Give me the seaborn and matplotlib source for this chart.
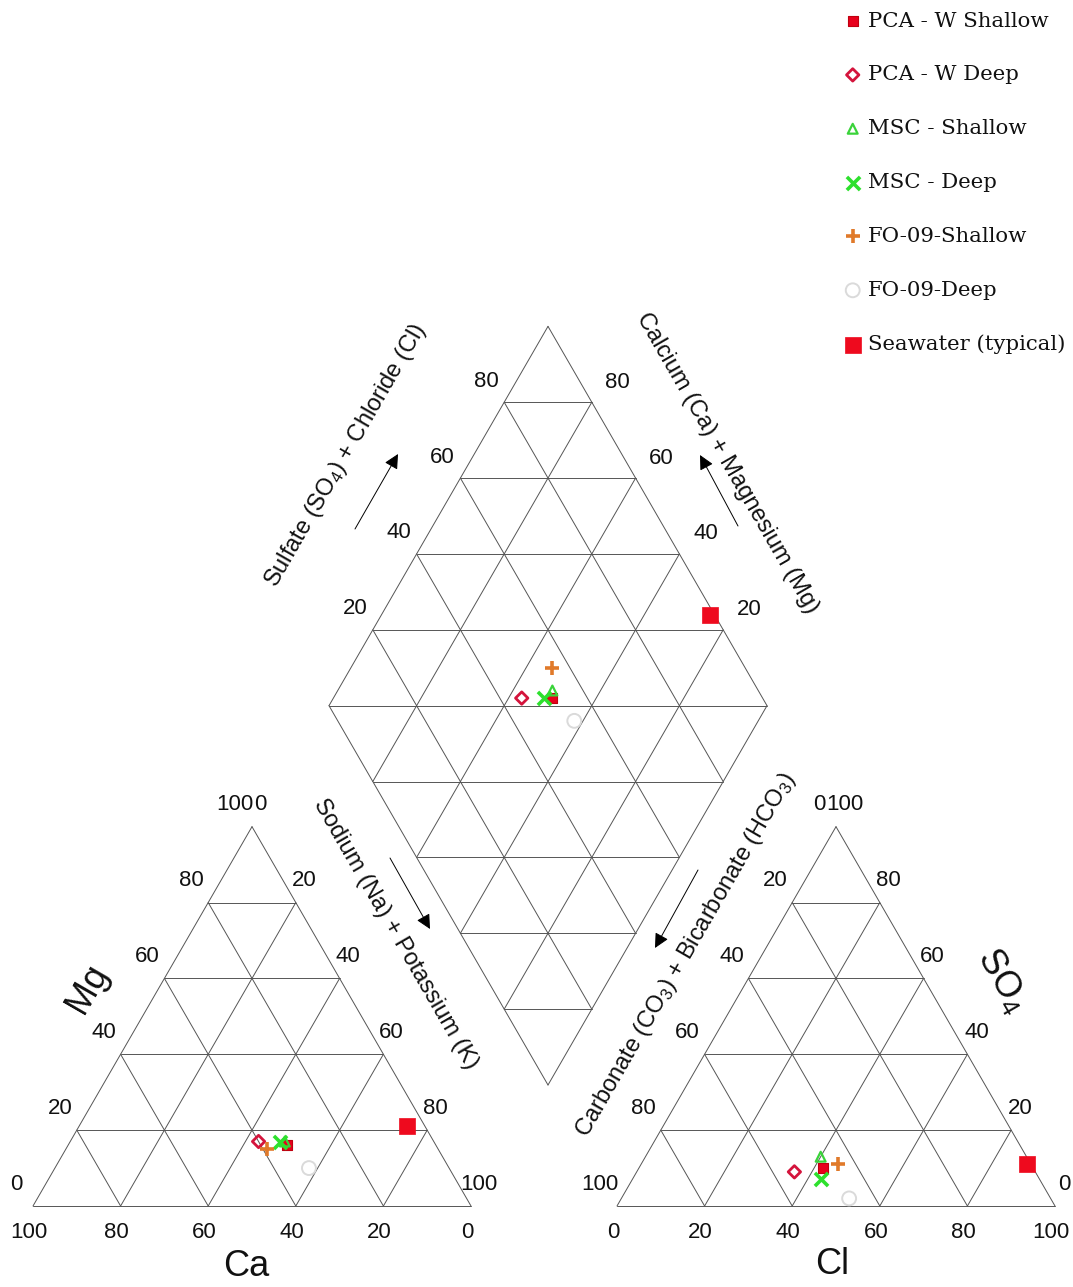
import numpy as np
import pandas as pd
import matplotlib
matplotlib.use("Agg")
import matplotlib.pyplot as plt
import seaborn as sns

sns.set_theme(style="white")
plt.rcParams['font.family'] = ['Liberation Sans', 'DejaVu Sans']
plt.rcParams['mathtext.fontset'] = 'custom'
plt.rcParams['mathtext.rm'] = 'Liberation Sans'
plt.rcParams['mathtext.it'] = 'Liberation Sans:italic'

# samples (percent of meq)
samples = ["PCA - W Shallow", "PCA - W Deep", "MSC - Shallow", "MSC - Deep",
           "FO-09-Shallow", "FO-09-Deep", "Seawater (typical)"]
ca = [34, 40, 34, 35, 39, 32, 4]
mg = [16, 17, 17, 17, 15, 10, 21]
na_k = [50, 43, 49, 48, 46, 58, 75]
hco3 = [48, 55, 47, 50, 44, 46, 1]
so4 = [10, 9, 13, 7, 11, 2, 11]
cl = [42, 36, 40, 43, 45, 52, 88]

ticks = [0, 20, 40, 60, 80, 100]

df = pd.DataFrame({"sample": samples, "Ca": ca, "Mg": mg, "NaK": na_k,
                   "HCO3": hco3, "SO4": so4, "Cl": cl})

# marker look for each sample
styles = {
    "PCA - W Shallow": dict(marker="s", s=42, color="#e8001c", edgecolor="#c00010", linewidth=0.8),
    "PCA - W Deep": dict(marker="D", s=40, color="#d4143c", facecolor="none", edgecolor="#d4143c", linewidth=2),
    "MSC - Shallow": dict(marker="^", s=50, color="#3ad33a", facecolor="none", edgecolor="#3ad33a", linewidth=1.6),
    "MSC - Deep": dict(marker="x", s=90, color="#2de02d", linewidth=2.6),
    "FO-09-Shallow": dict(marker="+", s=110, color="#e07a2a", linewidth=2.6),
    "FO-09-Deep": dict(marker="o", s=100, color="#dadada", facecolor="none", edgecolor="#dadada", linewidth=1.4),
    "Seawater (typical)": dict(marker="s", s=117, color="#ee0a1e", edgecolor="#ee0a1e", linewidth=0.5),
}

# layout (pixels)
L = 438.0
H = L * np.sqrt(3) / 2
cat_o = (33.0, 1206.0)
an_o = (617.0, 1206.0)
dia_b = (548.0, 1085.0)
line_kw = dict(color="#555555", lw=0.7)


def tri_xy(o, right, top):
    return o[0] + L * (right + 0.5 * top), o[1] - H * top


def dia_xy(camg, so4cl):
    return dia_b[0] + 0.5 * L * (so4cl - camg), dia_b[1] - H * (so4cl + camg)


fig = plt.figure(figsize=(10.73, 12.87), dpi=100)
ax = fig.add_axes([0, 0, 1, 1])
ax.set_xlim(0, 1073)
ax.set_ylim(1287, 0)
ax.axis("off")


def seg(p, q):
    ax.plot([p[0], q[0]], [p[1], q[1]], **line_kw)


# triangles
for o in (cat_o, an_o):
    seg(tri_xy(o, 0, 0), tri_xy(o, 1, 0))
    seg(tri_xy(o, 1, 0), tri_xy(o, 0, 1))
    seg(tri_xy(o, 0, 1), tri_xy(o, 0, 0))
    for f in [0.2, 0.4, 0.6, 0.8]:
        seg(tri_xy(o, 0, f), tri_xy(o, 1 - f, f))
        seg(tri_xy(o, f, 0), tri_xy(o, f, 1 - f))
        seg(tri_xy(o, 1 - f, 0), tri_xy(o, 0, 1 - f))

# diamond
for f in [0, 0.2, 0.4, 0.6, 0.8, 1.0]:
    seg(dia_xy(f, 0), dia_xy(f, 1))
    seg(dia_xy(0, f), dia_xy(1, f))
for k in np.arange(0.2, 1.81, 0.2):
    if k <= 1.0:
        seg(dia_xy(0, k), dia_xy(k, 0))
    else:
        seg(dia_xy(k - 1, 1), dia_xy(1, k - 1))

tk = dict(fontsize=16, ha="center", va="center", color="#111111")
for t in ticks:
    f = t / 100
    # cation triangle
    x, y = tri_xy(cat_o, f, 0)
    ax.text(x - 4, y + 27, str(100 - t), **tk)
    x, y = tri_xy(cat_o, 0, f)
    ax.text(x - 17, y - 22, str(t), **tk)
    x, y = tri_xy(cat_o, 1 - f, f)
    ax.text(x + 8, y - 22, str(100 - t), **tk)
    # anion triangle
    x, y = tri_xy(an_o, f, 0)
    ax.text(x - 4, y + 27, str(t), **tk)
    x, y = tri_xy(an_o, 0, f)
    ax.text(x - 17, y - 22, str(100 - t), **tk)
    x, y = tri_xy(an_o, 1 - f, f)
    ax.text(x + 9, y - 22, str(t), **tk)
for t in [20, 40, 60, 80]:
    f = t / 100
    x, y = dia_xy(1, f)
    ax.text(x - 18, y - 21, str(t), **tk)
    x, y = dia_xy(f, 1)
    ax.text(x + 26, y - 20, str(t), **tk)

# axis titles
big = dict(fontsize=26, ha="center", va="center", color="#111111")
ax.text(246, 1266, "Ca", **big)
ax.text(832, 1265, "Cl", **big)
ax.text(87, 989, "Mg", rotation=60, rotation_mode="anchor", **big)
ax.text(1003, 980, "SO$_4$", rotation=-60, rotation_mode="anchor", **big)

mid = dict(fontsize=17, ha="center", va="center", color="#111111", rotation_mode="anchor")
ax.text(346, 456, "Sulfate (SO$_4$) + Chloride (Cl)", rotation=60, **mid)
ax.text(727, 463, "Calcium (Ca) + Magnesium (Mg)", rotation=-60, **mid)
ax.text(396, 934, "Sodium (Na) + Potassium (K)", rotation=-60, **mid)
ax.text(686, 955, "Carbonate (CO$_3$) + Bicarbonate (HCO$_3$)", rotation=60, **mid)

arr = dict(arrowstyle="-|>", lw=0.7, color="black", mutation_scale=22, shrinkA=0, shrinkB=0)
ax.annotate("", xy=(398, 454), xytext=(355, 529), arrowprops=arr)
ax.annotate("", xy=(700, 455), xytext=(738, 526), arrowprops=arr)
ax.annotate("", xy=(430, 929), xytext=(390, 858), arrowprops=arr)
ax.annotate("", xy=(655, 948), xytext=(698, 870), arrowprops=arr)

# data points: cation triangle, anion triangle and diamond
for _, r in df.iterrows():
    cx, cy = tri_xy(cat_o, r["NaK"] / 100, r["Mg"] / 100)
    axx, ayy = tri_xy(an_o, r["Cl"] / 100, r["SO4"] / 100)
    dx, dy = dia_xy((r["Ca"] + r["Mg"]) / 100, (r["SO4"] + r["Cl"]) / 100)
    pts = pd.DataFrame({"x": [cx, axx, dx], "y": [cy, ayy, dy]})
    sns.scatterplot(data=pts, x="x", y="y", ax=ax, label=r["sample"],
                    zorder=5, clip_on=False, **styles[r["sample"]])

leg = ax.legend(loc="upper left", bbox_to_anchor=(832 / 1073, 1 - 1 / 1287),
                bbox_transform=fig.transFigure, frameon=False, borderpad=0,
                handlelength=0.95, handletextpad=0.25, labelspacing=1.64,
                prop={"family": "DejaVu Serif", "size": 15.3})
for txt in leg.get_texts():
    txt.set_color("#111111")

fig.savefig("out.png", dpi=100)
